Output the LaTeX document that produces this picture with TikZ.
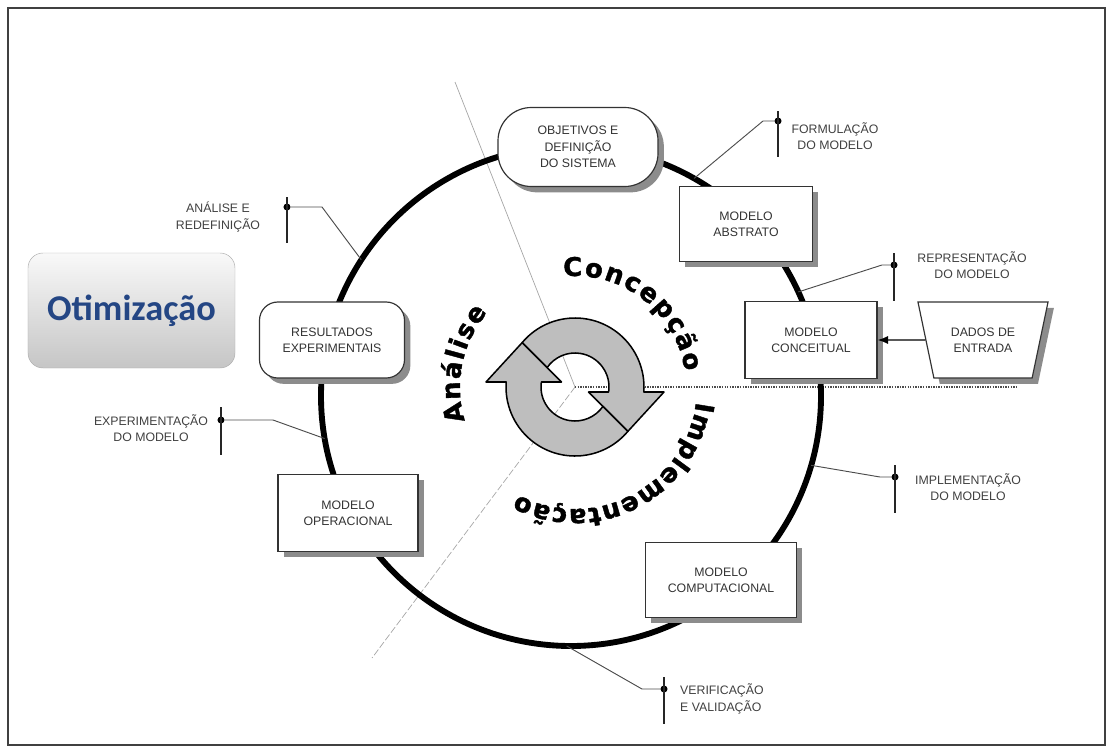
\documentclass[tikz,border=0pt]{standalone}
\usepackage{fontspec}
\setmainfont{Liberation Sans}
\newfontfamily\optfont{Carlito}
\newfontfamily\phasefont{DejaVu Sans}[BoldFeatures={FakeBold=1.5}]
\usepackage{xcolor}
\usepackage{tikz}
\usetikzlibrary{shapes.geometric, positioning, arrows.meta, calc, shadows, decorations.text}

\definecolor{optblue}{RGB}{36,70,132}
\definecolor{ringgray}{RGB}{190,190,190}

\begin{document}
\begin{tikzpicture}[x=0.03cm, y=-0.03cm,
        box/.style={draw=black!80, line width=1pt, fill=white, align=center, text=black!80, font=\fontsize{10.5}{14}\selectfont, drop shadow={shadow xshift=5pt, shadow yshift=-5pt, fill=black!45, opacity=1}},
        lbl/.style={align=center, text=black!75, font=\fontsize{10.5}{14}\selectfont, inner sep=0pt},
        dot/.style={circle, fill=black, inner sep=0pt, minimum size=6pt},
        pinbar/.style={line width=1.4pt, black!85},
        pinline/.style={line width=0.8pt, black!70},
        ringarrow/.style={fill=ringgray, draw=black, line width=1.3pt, line join=round},
        arr/.style={-{Latex[length=9pt, width=7pt]}, line width=1.2pt},
        phase/.style={decorate, decoration={text along path, text align=fit to path, text={|\phasefont\bfseries\fontsize{22}{22}\selectfont|#1}}}
    ]
    \useasboundingbox (0,0) rectangle (1110,753);
    \draw[line width=1.5pt, black!75] (8,8) rectangle (1105,745);

    % dividing lines
    \coordinate (hub) at (575,387);
    \coordinate (divN) at (455,82);
    \coordinate (divSW) at (372,658);
    \coordinate (divE) at (1017,387);
    \draw[gray!70, line width=0.6pt] (divN) -- (hub);
    \draw[gray!70, line width=0.6pt, dash pattern=on 6pt off 2pt] (hub) -- (divSW);
    \draw[black!70, line width=1.2pt, densely dotted] (hub) -- (divE);

    % cycle
    \coordinate (o) at (571,396);
    \draw[line width=5pt] (o) circle[radius=250];

    % pins
    \node[dot] (dF) at (778,121) {};
    \coordinate (cF) at ($(o)+(-60.5:250)$);
    \draw[pinbar] ($(dF)+(0,-10)$) -- ($(dF)+(0,36)$);
    \draw[pinline] (dF) -- ++(-15,0) -- (cF);
    \node[lbl] (tF) at (835,136) {FORMULAÇÃO\\DO MODELO};

    \node[dot] (dR) at (894,265) {};
    \coordinate (cR) at ($(o)+(-24.6:250)$);
    \draw[pinbar] ($(dR)+(0,-12)$) -- ($(dR)+(0,36)$);
    \draw[pinline] (dR) -- ++(-12,0) -- (cR);
    \node[lbl] (tR) at (972,265) {REPRESENTAÇÃO\\DO MODELO};

    \node[dot] (dI) at (895,477) {};
    \coordinate (cI) at ($(o)+(16.1:250)$);
    \draw[pinbar] ($(dI)+(0,-12)$) -- ($(dI)+(0,36)$);
    \draw[pinline] (dI) -- ++(-15,0) -- (cI);
    \node[lbl] (tI) at (968,487) {IMPLEMENTAÇÃO\\DO MODELO};

    \node[dot] (dV) at (664,689) {};
    \coordinate (cV) at ($(o)+(91:250)$);
    \draw[pinbar] ($(dV)+(0,-12)$) -- ($(dV)+(0,35)$);
    \draw[pinline] (dV) -- ++(-22,0) -- (cV);
    \node[lbl, align=left, anchor=west] (tV) at (680,699) {VERIFICAÇÃO\\E VALIDAÇÃO};

    \node[dot] (dE) at (221,420) {};
    \coordinate (cE) at ($(o)+(170.2:250)$);
    \draw[pinbar] ($(dE)+(0,-13)$) -- ($(dE)+(0,35)$);
    \draw[pinline] (dE) -- ++(52,0) -- (cE);
    \node[lbl] (tE) at (151,428) {EXPERIMENTAÇÃO\\DO MODELO};

    \node[dot] (dA) at (287,207) {};
    \coordinate (cA) at ($(o)+(-147:250)$);
    \draw[pinbar] ($(dA)+(0,-10)$) -- ($(dA)+(0,36)$);
    \draw[pinline] (dA) -- ++(35,0) -- (cA);
    \node[lbl] (tA) at (218,217) {ANÁLISE E\\REDEFINIÇÃO};

    % stages
    \node[box, rounded corners=1cm, minimum width=4.8cm, minimum height=2.37cm] (obj) at (578,147) {OBJETIVOS E\\DEFINIÇÃO\\DO SISTEMA};
    \node[box, minimum width=3.99cm, minimum height=2.25cm] (abs) at (746,224) {MODELO\\ABSTRATO};
    \node[box, minimum width=3.96cm, minimum height=2.31cm] (conc) at (811,340) {MODELO\\CONCEITUAL};
    \node[box, minimum width=4.53cm, minimum height=2.25cm] (comp) at (721,580) {MODELO\\COMPUTACIONAL};
    \node[box, minimum width=4.2cm, minimum height=2.31cm] (oper) at (348,513) {MODELO\\OPERACIONAL};
    \node[box, rounded corners=0.55cm, minimum width=4.35cm, minimum height=2.28cm] (res) at (332,340) {RESULTADOS\\EXPERIMENTAIS};
    \node[box, trapezium, trapezium angle=70.4, trapezium stretches=true, shape border rotate=180, minimum width=3.93cm, minimum height=2.28cm] (dados) at (983,340) {DADOS DE\\ENTRADA};
    \draw[arr] (dados) -- (conc);

    \node[rounded corners=0.45cm, draw=gray!65, top color=gray!5, bottom color=gray!45, minimum width=6.21cm, minimum height=3.45cm, font=\optfont\bfseries\fontsize{31}{32}\selectfont, text=optblue] (otim) at (131.5,310.5) {Otimização};

    % central arrows
    \path[ringarrow] (522.14,342.65) arc[start angle=-140, end angle=4.155, radius=69] -- (664,392) -- (627.86,431.35) -- (588.51,392) -- (608.63,392) arc[start angle=8.46, end angle=-145.19, radius=34] -- cycle;
    \path[ringarrow, rotate around={180:(575,387)}] (522.14,342.65) arc[start angle=-140, end angle=4.155, radius=69] -- (664,392) -- (627.86,431.35) -- (588.51,392) -- (608.63,392) arc[start angle=8.46, end angle=-145.19, radius=34] -- cycle;

    % phases
    \path[phase=Concepção] ($(hub)+(-96:111)$) arc[start angle=-96, end angle=-8, radius=111];
    \path[phase=Implementação] ($(hub)+(7:122)$) arc[start angle=7, end angle=118, radius=122];
    \path[phase=Análise] ($(hub)+(-197:115)$) arc[start angle=-197, end angle=-139.5, radius=115];

\end{tikzpicture}
\end{document}
